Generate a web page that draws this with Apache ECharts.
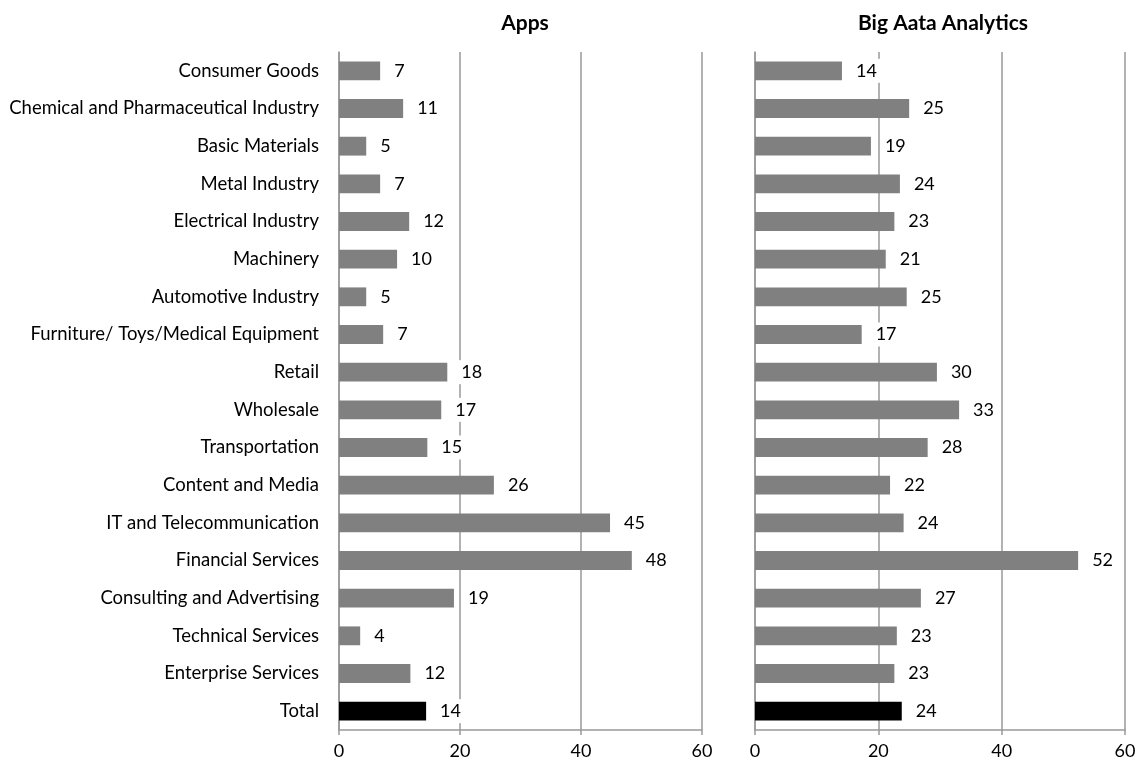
<!DOCTYPE html>
<html>
<head>
<meta charset="utf-8">
<script src="https://cdn.jsdelivr.net/npm/echarts@6/dist/echarts.min.js"></script>
<style>
  html, body { margin: 0; padding: 0; background: #fff; }
  #chart { width: 1141px; height: 765px; }
</style>
</head>
<body>
<div id="chart"></div>
<script>
// categories, top to bottom
var categories = [
    'Consumer Goods', 'Chemical and Pharmaceutical Industry', 'Basic Materials',
    'Metal Industry', 'Electrical Industry', 'Machinery', 'Automotive Industry',
    'Furniture/ Toys/Medical Equipment', 'Retail', 'Wholesale', 'Transportation',
    'Content and Media', 'IT and Telecommunication', 'Financial Services',
    'Consulting and Advertising', 'Technical Services', 'Enterprise Services', 'Total'
];

// Apps (bar lengths, labels rounded)
var appsValues = [6.8, 10.6, 4.5, 6.8, 11.6, 9.6, 4.5, 7.3, 17.9, 16.9, 14.6, 25.6, 44.8, 48.4, 19.0, 3.5, 11.8, 14.4];

// Big Aata Analytics
var bigDataValues = [14.1, 25.0, 18.8, 23.5, 22.6, 21.2, 24.6, 17.3, 29.5, 33.1, 28.0, 21.9, 24.1, 52.4, 26.9, 23.0, 22.6, 23.8];

var xTicks = [0, 20, 40, 60];

var FONT = 'Lato, "Open Sans", sans-serif';

function barData(values) {
    return values.map(function (v, i) {
        return {
            value: v,
            itemStyle: { color: categories[i] === 'Total' ? '#000000' : '#808080' }
        };
    });
}

function xAxisFor(gridIndex) {
    return {
        type: 'value',
        gridIndex: gridIndex,
        min: xTicks[0],
        max: xTicks[xTicks.length - 1],
        interval: 20,
        axisLine: { show: true, lineStyle: { color: '#999', width: 1.5 } },
        axisTick: { show: true, length: 5, lineStyle: { color: '#999', width: 1.5 } },
        axisLabel: { color: '#000', fontFamily: FONT, fontSize: 18, margin: 12 },
        splitLine: { show: true, lineStyle: { color: '#999', width: 1.5 } }
    };
}

function yAxisFor(gridIndex, showLabels) {
    return {
        type: 'category',
        gridIndex: gridIndex,
        data: categories,
        inverse: true,
        axisLine: { show: true, lineStyle: { color: '#999', width: 1.5 } },
        axisTick: { show: false },
        axisLabel: {
            show: showLabels,
            color: '#000',
            fontFamily: FONT,
            fontSize: 18.5,
            margin: 20
        }
    };
}

function seriesFor(idx, values) {
    return {
        type: 'bar',
        xAxisIndex: idx,
        yAxisIndex: idx,
        barWidth: '50%',
        data: barData(values),
        label: {
            show: true,
            position: 'right',
            distance: 10,
            color: '#000',
            fontFamily: FONT,
            fontSize: 18,
            backgroundColor: '#fff',
            padding: [3, 4],
            formatter: function (p) { return Math.round(p.value); }
        }
    };
}

var chart = echarts.init(document.getElementById('chart'));
chart.setOption({
    animation: false,
    title: [
        { text: 'Apps', left: 520, top: 8, textAlign: 'center',
          textStyle: { fontFamily: FONT, fontSize: 21, fontWeight: 'bold', color: '#000' } },
        { text: 'Big Aata Analytics', left: 938, top: 8, textAlign: 'center',
          textStyle: { fontFamily: FONT, fontSize: 21, fontWeight: 'bold', color: '#000' } }
    ],
    grid: [
        { left: 339, right: 439, top: 52, bottom: 35 },
        { left: 755, right: 16, top: 52, bottom: 35 }
    ],
    xAxis: [xAxisFor(0), xAxisFor(1)],
    yAxis: [yAxisFor(0, true), yAxisFor(1, false)],
    series: [seriesFor(0, appsValues), seriesFor(1, bigDataValues)]
});
</script>
</body>
</html>
